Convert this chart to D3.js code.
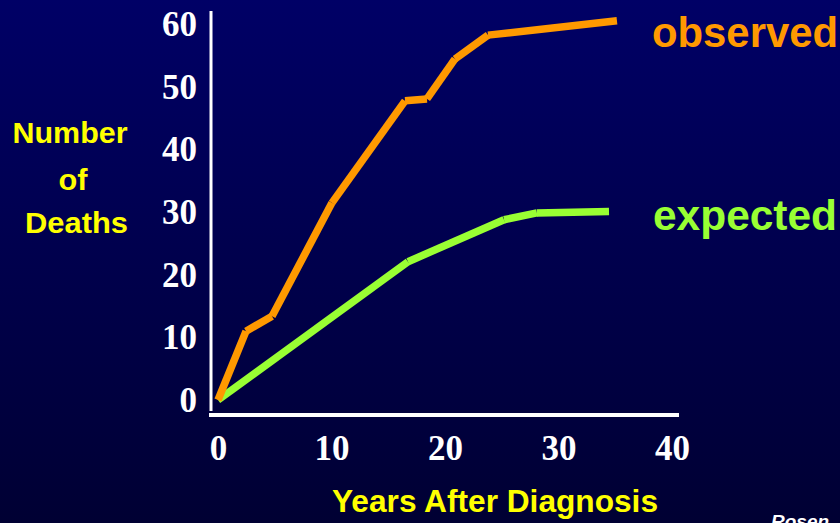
<!DOCTYPE html>
<html>
<head>
<meta charset="utf-8">
<script src="https://cdn.jsdelivr.net/npm/d3@7"></script>
<style>
  html, body { margin: 0; padding: 0; background: #000040; overflow: hidden; }
  svg { display: block; }
</style>
</head>
<body>
<svg id="chart" width="840" height="523"></svg>
<script>
// ---- data ----
const observedYears  = [0, 2.47, 4.76, 10.04, 16.48, 18.41, 20.88, 23.79, 35.15];
const observedDeaths = [0, 11.0, 13.4, 31.5, 47.8, 48.1, 54.5, 58.3, 60.6];
const expectedYears  = [0, 16.74, 25.2, 28.1, 34.45];
const expectedDeaths = [0, 22.1, 28.8, 29.9, 30.1];
const xTicks = [0, 10, 20, 30, 40];
const yTicks = [0, 10, 20, 30, 40, 50, 60];
const seriesNames = ["observed", "expected"];
const yTitleLines = ["Number", "of", "Deaths"];
const xTitle = "Years After Diagnosis";
const sourceNote = "Rosen";

// ---- layout ----
const W = 840, H = 523;
const svg = d3.select("#chart");

const defs = svg.append("defs");
const grad = defs.append("linearGradient").attr("id", "bg")
  .attr("x1", 0).attr("y1", 0).attr("x2", 0).attr("y2", 1);
grad.append("stop").attr("offset", "0%").attr("stop-color", "#000066");
grad.append("stop").attr("offset", "100%").attr("stop-color", "#000033");
svg.append("rect").attr("width", W).attr("height", H).attr("fill", "url(#bg)");

const x = d3.scaleLinear().domain([0, 40]).range([218, 672]);
const y = d3.scaleLinear().domain([0, 60]).range([400, 24.5]);

// axis lines
svg.append("line")
  .attr("x1", 211).attr("x2", 211).attr("y1", 11).attr("y2", 411)
  .attr("stroke", "#fff").attr("stroke-width", 3);
svg.append("line")
  .attr("x1", 209).attr("x2", 679).attr("y1", 415).attr("y2", 415)
  .attr("stroke", "#fff").attr("stroke-width", 4);

// tick labels
const serif = "'Liberation Serif','Times New Roman',serif";
const yAxis = svg.append("g").attr("transform", "translate(211,0)")
  .call(d3.axisLeft(y).tickValues(yTicks).tickSize(0).tickPadding(14).tickFormat(d3.format("d")));
yAxis.select(".domain").remove();
yAxis.selectAll("text")
  .attr("fill", "#fff")
  .style("font-family", serif)
  .style("font-weight", "bold").style("font-size", "35px");

const xAxis = svg.append("g").attr("transform", "translate(0,415)")
  .call(d3.axisBottom(x).tickValues(xTicks).tickSize(0).tickPadding(20).tickFormat(d3.format("d")));
xAxis.select(".domain").remove();
xAxis.selectAll("text")
  .attr("fill", "#fff")
  .style("font-family", serif)
  .style("font-weight", "bold").style("font-size", "35px");

// series drawn as separate butt-capped segments
function drawSeries(xs, ys, color) {
  const pts = xs.map((v, i) => [v, ys[i]]);
  const segs = d3.pairs(pts);
  svg.append("g").selectAll("line").data(segs).join("line")
    .attr("x1", d => x(d[0][0])).attr("y1", d => y(d[0][1]))
    .attr("x2", d => x(d[1][0])).attr("y2", d => y(d[1][1]))
    .attr("stroke", color).attr("stroke-width", 7.5).attr("stroke-linecap", "butt");
}
drawSeries(expectedYears, expectedDeaths, "#99FF33");
drawSeries(observedYears, observedDeaths, "#FF9900");

// series labels
const sans = "'Liberation Sans', Arial, Helvetica, sans-serif";
svg.append("text").text(seriesNames[0])
  .attr("x", 652).attr("y", 47).attr("fill", "#FF9900")
  .attr("textLength", 186).attr("lengthAdjust", "spacingAndGlyphs")
  .style("font-family", sans).style("font-weight", "bold").style("font-size", "42px");
svg.append("text").text(seriesNames[1])
  .attr("x", 653).attr("y", 230).attr("fill", "#99FF33")
  .attr("textLength", 184).attr("lengthAdjust", "spacingAndGlyphs")
  .style("font-family", sans).style("font-weight", "bold").style("font-size", "42px");

// y title
const yTitleX = [12.5, 58.5, 25];
const yTitleY = [143, 190, 233];
const yTitleW = [115, 29, 103];
svg.append("g").selectAll("text").data(yTitleLines).join("text")
  .text(d => d)
  .attr("x", (d, i) => yTitleX[i]).attr("y", (d, i) => yTitleY[i])
  .attr("textLength", (d, i) => yTitleW[i]).attr("lengthAdjust", "spacingAndGlyphs")
  .attr("fill", "#FFFF00")
  .style("font-family", sans).style("font-weight", "bold").style("font-size", "30px");

// x title
svg.append("text").text(xTitle)
  .attr("x", 332).attr("y", 512).attr("fill", "#FFFF00")
  .attr("textLength", 326).attr("lengthAdjust", "spacingAndGlyphs")
  .style("font-family", sans).style("font-weight", "bold").style("font-size", "30.5px");

// source note (cut off at the bottom edge, as in the reference)
svg.append("text").text(sourceNote)
  .attr("x", 771).attr("y", 528).attr("fill", "#fff")
  .style("font-family", sans).style("font-weight", "bold").style("font-style", "italic")
  .style("font-size", "19px");
</script>
</body>
</html>
